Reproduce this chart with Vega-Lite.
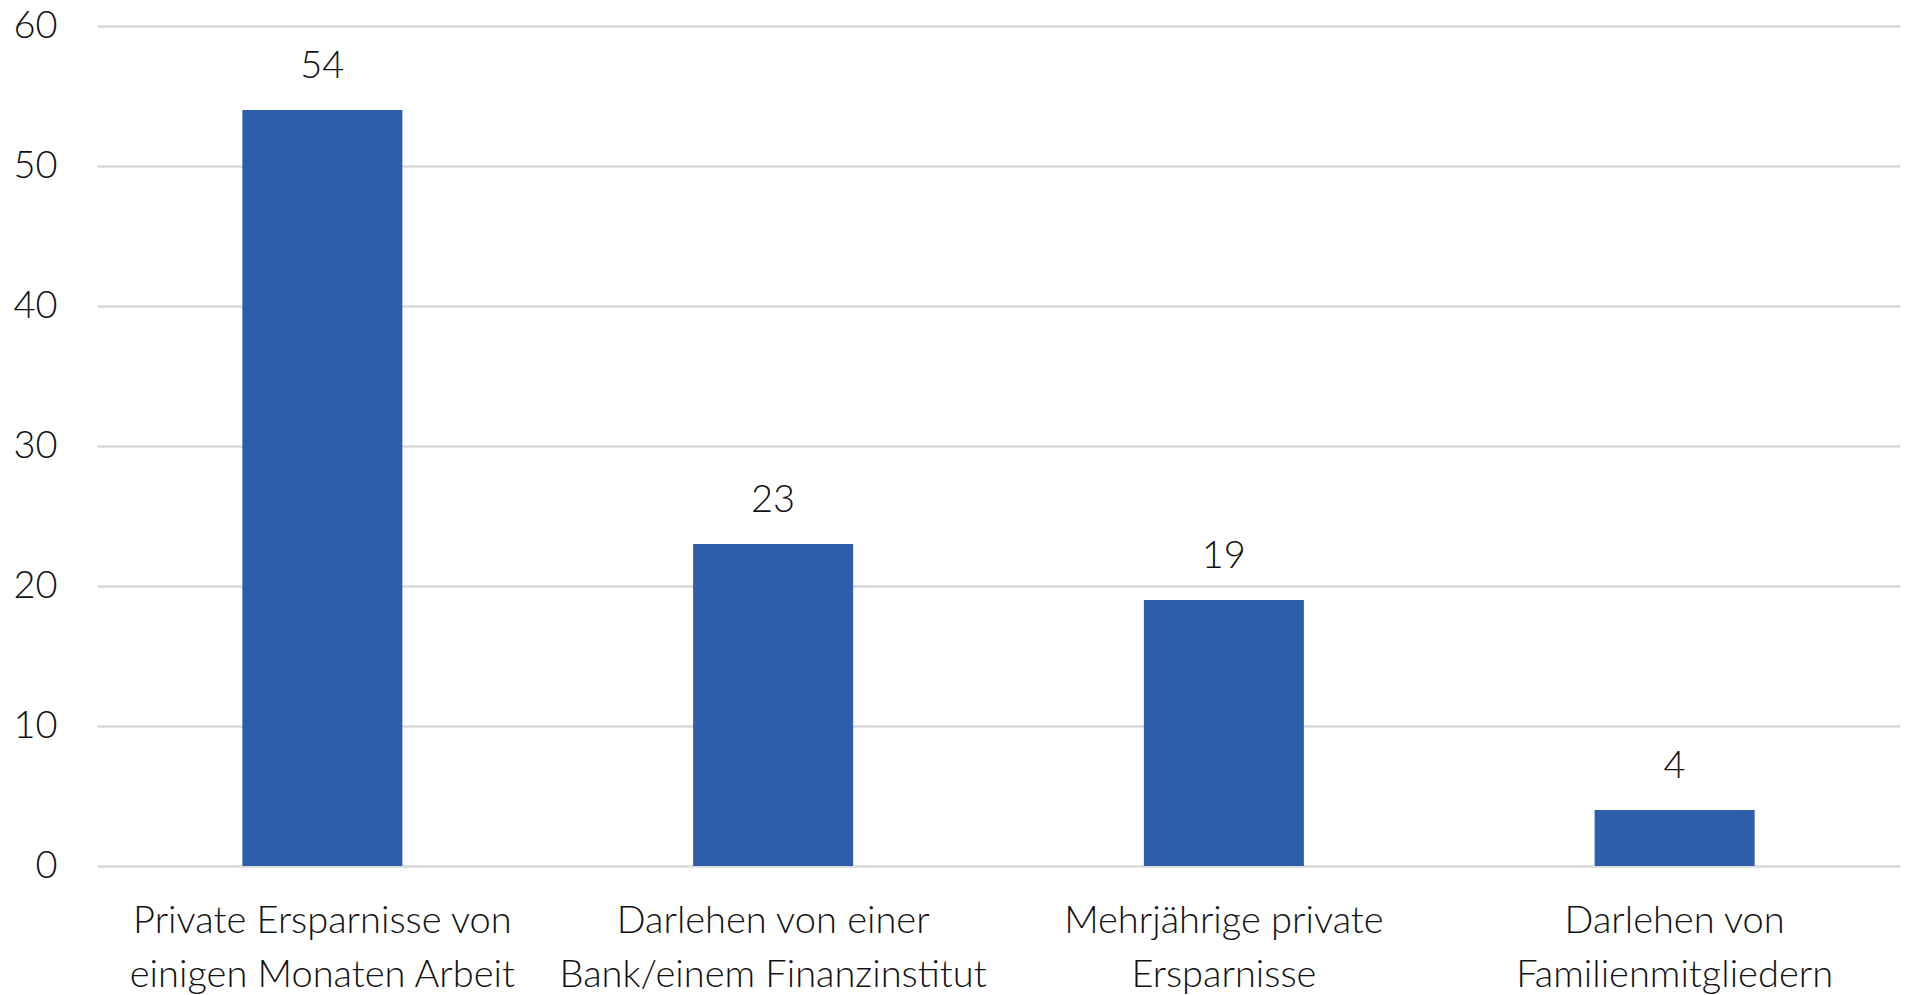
{
  "$schema": "https://vega.github.io/schema/vega-lite/v6.json",
  "width": 1803,
  "height": 840,
  "autosize": {"type": "none"},
  "padding": {"left": 97, "top": 26, "right": 7, "bottom": 129},
  "background": "white",
  "config": {
    "view": {"stroke": null},
    "font": "Lato",
    "text": {"font": "Lato"}
  },
  "data": {
    "values": [
      {"quelle": "Private Ersparnisse von\neinigen Monaten Arbeit", "wert": 54},
      {"quelle": "Darlehen von einer\nBank/einem Finanzinstitut", "wert": 23},
      {"quelle": "Mehrjährige private\nErsparnisse", "wert": 19},
      {"quelle": "Darlehen von\nFamilienmitgliedern", "wert": 4}
    ]
  },
  "encoding": {
    "x": {
      "field": "quelle",
      "type": "nominal",
      "sort": null,
      "scale": {"paddingInner": 0.645, "paddingOuter": 0.3225},
      "axis": {
        "title": null,
        "labelAngle": 0,
        "labelExpr": "split(datum.label, '\\n')",
        "labelFont": "Lato",
        "labelFontWeight": 300,
        "labelFontSize": 38,
        "labelColor": "#111111",
        "labelLineHeight": 54,
        "labelPadding": 36,
        "labelLimit": 0,
        "ticks": false,
        "domain": false
      }
    },
    "y": {
      "field": "wert",
      "type": "quantitative",
      "scale": {"domain": [0, 60], "nice": false},
      "axis": {
        "title": null,
        "values": [0, 10, 20, 30, 40, 50, 60],
        "labelFont": "Lato",
        "labelFontWeight": 300,
        "labelFontSize": 38,
        "labelColor": "#111111",
        "labelPadding": 40,
        "ticks": false,
        "domain": false,
        "grid": true,
        "gridColor": "#d9d9d9",
        "gridWidth": 2.5
      }
    }
  },
  "layer": [
    {"mark": {"type": "bar", "color": "#2d5eaa"}},
    {
      "mark": {
        "type": "text",
        "baseline": "alphabetic",
        "dy": -32,
        "font": "Lato",
        "fontWeight": 300,
        "fontSize": 38,
        "color": "#111111"
      },
      "encoding": {"text": {"field": "wert", "type": "quantitative"}}
    }
  ]
}
